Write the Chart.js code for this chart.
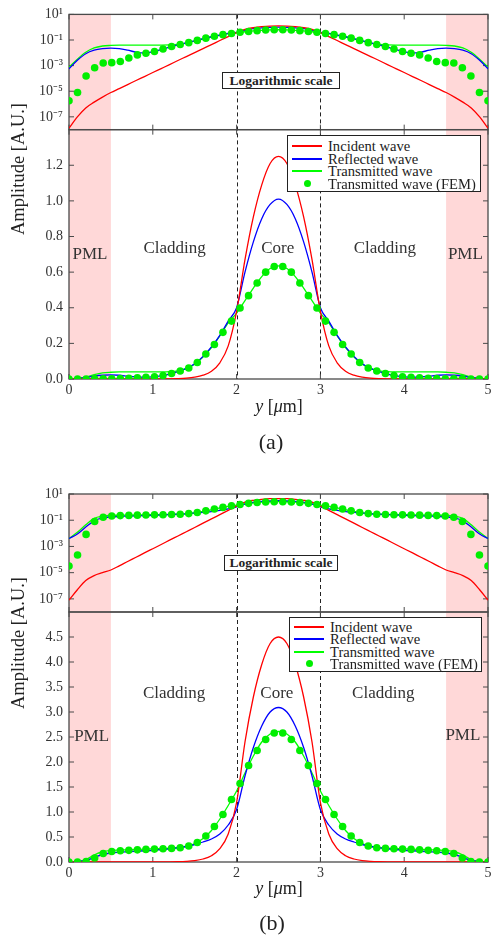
<!DOCTYPE html>
<html>
<head>
<meta charset="utf-8">
<title>Amplitude profiles</title>
<script src="https://cdn.jsdelivr.net/npm/chart.js@4.4.1/dist/chart.umd.min.js"></script>
<style>
  html, body { margin: 0; padding: 0; background: #fff; }
  #page { position: relative; width: 492px; height: 940px; overflow: hidden;
          font-family: "Liberation Serif", "Times New Roman", serif; color: #222; }
  canvas { position: absolute; left: 0; }
  .txt { position: absolute; white-space: nowrap; transform: translate(-50%, -50%); }
  .ytitle { font-size: 18.5px; transform: translate(-50%, -50%) rotate(-90deg); }
  .xtitle { font-size: 18px; }
  .tag { font-size: 22px; }
  .logbox { position: absolute; box-sizing: border-box; border: 1.2px solid #222; background: #fff;
            font-weight: bold; font-size: 13.5px; text-align: center; white-space: nowrap; }
  .legend { position: absolute; box-sizing: border-box; border: 1.2px solid #222; background: #fff; font-size: 14.6px; }
  .legend .row { position: absolute; left: 0; right: 0; height: 14px; }
  .legend .sample { position: absolute; left: 4px; width: 30px; top: 6px; height: 2px; }
  .legend .dot { position: absolute; left: 16px; top: 3px; width: 7px; height: 7px; border-radius: 50%; }
  .legend .label { position: absolute; left: 40px; top: 0; line-height: 14px; white-space: nowrap; }
</style>
</head>
<body>
<div id="page">
  <canvas id="chartA" width="492" height="470" style="top:0px"></canvas>
  <canvas id="chartB" width="492" height="470" style="top:470px"></canvas>

  <div class="txt ytitle" style="left:18px;top:169px">Amplitude [A.U.]</div>
  <div class="txt xtitle" style="left:279px;top:406px"><i>y</i> [<i>μ</i>m]</div>
  <div class="txt tag" style="left:271px;top:442px">(a)</div>
  <div class="logbox" style="left:222px;top:72px;width:118px;height:17px;line-height:15px">Logarithmic scale</div>

  <div class="txt ytitle" style="left:18px;top:643px">Amplitude [A.U.]</div>
  <div class="txt xtitle" style="left:279px;top:888px"><i>y</i> [<i>μ</i>m]</div>
  <div class="txt tag" style="left:272px;top:923px">(b)</div>
  <div class="logbox" style="left:224px;top:555px;width:114px;height:16px;line-height:14px">Logarithmic scale</div>
</div>

<script>
// sampling grid of the analytical curves (µm)
const X_GRID = [0, 0.1, 0.2, 0.3, 0.4, 0.5, 0.6, 0.7, 0.8, 0.9,
  1.0, 1.1, 1.2, 1.3, 1.4, 1.5, 1.6, 1.7, 1.8, 1.9,
  2.0, 2.1, 2.2, 2.3, 2.4, 2.5, 2.6, 2.7, 2.8, 2.9,
  3.0, 3.1, 3.2, 3.3, 3.4, 3.5, 3.6, 3.7, 3.8, 3.9,
  4.0, 4.1, 4.2, 4.3, 4.4, 4.5, 4.6, 4.7, 4.8, 4.9, 5.0];

// FEM nodes
const FEM_X = [0, 0.102, 0.204, 0.306, 0.408, 0.510, 0.612, 0.714, 0.816, 0.918,
  1.020, 1.122, 1.224, 1.327, 1.429, 1.531, 1.633, 1.735, 1.837, 1.939,
  2.041, 2.143, 2.245, 2.347, 2.449, 2.551, 2.653, 2.755, 2.857, 2.959,
  3.061, 3.163, 3.265, 3.367, 3.469, 3.571, 3.673, 3.776, 3.878, 3.980,
  4.082, 4.184, 4.286, 4.388, 4.490, 4.592, 4.694, 4.796, 4.898, 5.000];

// panel (a)
const INCIDENT_A = [1.3e-8, 1.0e-7, 5.0e-7, 1.4e-6, 3.5e-6, 7.9e-6, 1.6e-5, 3.3e-5, 6.9e-5, 1.4e-4,
  2.9e-4, 5.9e-4, 1.2e-3, 2.5e-3, 5.1e-3, 0.0105, 0.0214, 0.0437, 0.091, 0.186,
  0.38, 0.67, 0.91, 1.09, 1.21, 1.25, 1.21, 1.09, 0.91, 0.67,
  0.38, 0.186, 0.091, 0.0437, 0.0214, 0.0105, 5.1e-3, 2.5e-3, 1.2e-3, 5.9e-4,
  2.9e-4, 1.4e-4, 6.9e-5, 3.3e-5, 1.6e-5, 7.9e-6, 3.5e-6, 1.4e-6, 5.0e-7, 1.0e-7, 1.3e-8];
const REFLECTED_A = [5.7e-4, 2.6e-3, 8.5e-3, 0.016, 0.021, 0.023, 0.021, 0.016, 0.0115, 0.0098,
  0.012, 0.018, 0.028, 0.042, 0.060, 0.086, 0.127, 0.180, 0.245, 0.325,
  0.40, 0.60, 0.77, 0.90, 0.98, 1.01, 0.98, 0.90, 0.77, 0.60,
  0.40, 0.325, 0.245, 0.180, 0.127, 0.086, 0.060, 0.042, 0.028, 0.018,
  0.012, 0.0098, 0.0115, 0.016, 0.021, 0.023, 0.021, 0.016, 8.5e-3, 2.6e-3, 5.7e-4];
const TRANSMITTED_A = [7.5e-4, 3.2e-3, 0.011, 0.024, 0.034, 0.038, 0.040, 0.040, 0.040, 0.040,
  0.040, 0.040, 0.041, 0.046, 0.058, 0.083, 0.123, 0.176, 0.242, 0.315,
  0.37, 0.44, 0.51, 0.575, 0.62, 0.635, 0.62, 0.575, 0.51, 0.44,
  0.37, 0.315, 0.242, 0.176, 0.123, 0.083, 0.058, 0.046, 0.041, 0.040,
  0.040, 0.040, 0.040, 0.040, 0.040, 0.038, 0.034, 0.024, 0.011, 3.2e-3, 7.5e-4];
const FEM_A = [1.8e-6, 7.9e-6, 1.55e-4, 6.9e-4, 1.6e-3, 1.7e-3, 2.1e-3, 3.9e-3, 6.9e-3, 9.3e-3,
  0.0126, 0.020, 0.031, 0.045, 0.062, 0.093, 0.140, 0.194, 0.262, 0.325,
  0.399, 0.468, 0.539, 0.600, 0.632, 0.632, 0.600, 0.539, 0.468, 0.399,
  0.325, 0.262, 0.194, 0.140, 0.093, 0.062, 0.045, 0.031, 0.020, 0.0126,
  9.3e-3, 6.9e-3, 3.9e-3, 2.1e-3, 1.7e-3, 1.6e-3, 6.9e-4, 1.55e-4, 7.9e-6, 1.8e-6];

// panel (b)
const INCIDENT_B = [8e-8, 5e-7, 2.5e-6, 6e-6, 1.0e-5, 1.6e-5, 3.3e-5, 7.1e-5, 1.5e-4, 3.2e-4,
  6.7e-4, 1.4e-3, 3.0e-3, 6.3e-3, 0.0133, 0.028, 0.060, 0.126, 0.266, 0.56,
  1.19, 2.40, 3.30, 3.95, 4.37, 4.50, 4.37, 3.95, 3.30, 2.40,
  1.19, 0.56, 0.266, 0.126, 0.060, 0.028, 0.0133, 6.3e-3, 3.0e-3, 1.4e-3,
  6.7e-4, 3.2e-4, 1.5e-4, 7.1e-5, 3.3e-5, 1.6e-5, 1.0e-5, 6e-6, 2.5e-6, 5e-7, 8e-8];
const REFLECTED_B = [4e-3, 9e-3, 0.03, 0.09, 0.15, 0.18, 0.195, 0.205, 0.215, 0.225,
  0.235, 0.25, 0.265, 0.285, 0.31, 0.35, 0.40, 0.46, 0.56, 0.74,
  1.05, 1.72, 2.29, 2.72, 3.00, 3.09, 3.00, 2.72, 2.29, 1.72,
  1.05, 0.74, 0.56, 0.46, 0.40, 0.35, 0.31, 0.285, 0.265, 0.25,
  0.235, 0.225, 0.215, 0.205, 0.195, 0.18, 0.15, 0.09, 0.03, 9e-3, 4e-3];
const TRANSMITTED_B = [4e-3, 0.012, 0.045, 0.14, 0.205, 0.232, 0.24, 0.245, 0.25, 0.258,
  0.263, 0.268, 0.275, 0.287, 0.315, 0.37, 0.47, 0.63, 0.86, 1.13,
  1.42, 1.78, 2.12, 2.40, 2.56, 2.61, 2.56, 2.40, 2.12, 1.78,
  1.42, 1.13, 0.86, 0.63, 0.47, 0.37, 0.315, 0.287, 0.275, 0.268,
  0.263, 0.258, 0.25, 0.245, 0.24, 0.232, 0.205, 0.14, 0.045, 0.012, 4e-3];
const FEM_B = [3.2e-5, 2.2e-4, 8.3e-3, 0.08, 0.17, 0.21, 0.225, 0.233, 0.243, 0.252,
  0.258, 0.264, 0.272, 0.285, 0.32, 0.39, 0.52, 0.71, 0.95, 1.25,
  1.57, 1.93, 2.23, 2.45, 2.58, 2.58, 2.45, 2.23, 1.93, 1.57,
  1.25, 0.95, 0.71, 0.52, 0.39, 0.32, 0.285, 0.272, 0.264, 0.258,
  0.252, 0.243, 0.233, 0.225, 0.21, 0.17, 0.08, 8.3e-3, 2.2e-4, 3.2e-5];

// axes
const X_TICKS = [0, 1, 2, 3, 4, 5];
const LOG_TICKS = [1e1, 1e-1, 1e-3, 1e-5, 1e-7];
const LIN_TICKS_A = [0, 0.2, 0.4, 0.6, 0.8, 1.0, 1.2];
const LIN_TICKS_B = [0, 0.5, 1.0, 1.5, 2.0, 2.5, 3.0, 3.5, 4.0, 4.5];

const SERIES_NAMES = ['Incident wave', 'Reflected wave', 'Transmitted wave', 'Transmitted wave (FEM)'];
const PML_ZONES = [[0, 0.5], [4.5, 5]];
const CORE_EDGES = [2, 3];
const REGION_NAMES = ['PML', 'Cladding', 'Core', 'Cladding', 'PML'];

const COLORS = ['#ff0000', '#0000ff', '#00ff00'];
const FEM_COLOR = '#00ee00';
const PML_FILL = '#ffd8d8';
const AXIS_COLOR = '#4a4a4a';
const TEXT_COLOR = '#333';
const TICK_FONT = {family: '"Liberation Serif", "Times New Roman", serif', size: 14};

const SUP = {'-': '⁻', '0': '⁰', '1': '¹', '2': '²', '3': '³', '4': '⁴', '5': '⁵', '6': '⁶', '7': '⁷', '8': '⁸', '9': '⁹'};
const powerLabel = v => '10' + String(Math.round(Math.log10(v))).split('').map(c => SUP[c]).join('');

const panelDecor = {
    id: 'panelDecor',
    beforeDatasetsDraw(chart, args, opts) {
        const {ctx, scales: {x, yLin, yLog}} = chart;
        const left = x.left, right = x.right;
        const top = yLog.top, mid = yLog.bottom, bottom = yLin.bottom;
        ctx.save();

        ctx.fillStyle = PML_FILL;
        PML_ZONES.forEach(([a, b]) => {
            const xa = x.getPixelForValue(a), xb = x.getPixelForValue(b);
            ctx.fillRect(xa, top, xb - xa, bottom - top);
        });

        ctx.strokeStyle = '#222';
        ctx.lineWidth = 1;
        ctx.setLineDash([4, 3]);
        CORE_EDGES.forEach(v => {
            const px = Math.round(x.getPixelForValue(v)) + 0.5;
            ctx.beginPath();
            ctx.moveTo(px, top);
            ctx.lineTo(px, bottom);
            ctx.stroke();
        });
        ctx.setLineDash([]);

        // region names
        ctx.fillStyle = TEXT_COLOR;
        ctx.font = '17px "Liberation Serif", "Times New Roman", serif';
        ctx.textAlign = 'center';
        ctx.textBaseline = 'middle';
        REGION_NAMES.forEach((name, i) => {
            ctx.fillText(name, x.getPixelForValue(opts.regionX[i]), yLin.getPixelForValue(opts.regionY[i]));
        });

        // frames and inward ticks
        ctx.strokeStyle = AXIS_COLOR;
        ctx.lineWidth = 1.3;
        ctx.strokeRect(left, top, right - left, mid - top);
        ctx.strokeRect(left, mid, right - left, bottom - mid);

        const tl = 5;
        ctx.lineWidth = 1;
        ctx.beginPath();
        X_TICKS.forEach(v => {
            const px = x.getPixelForValue(v);
            [[top, 1], [mid, -1], [mid, 1], [bottom, -1]].forEach(([y0, d]) => {
                ctx.moveTo(px, y0);
                ctx.lineTo(px, y0 + d * tl);
            });
        });
        [[yLog, LOG_TICKS], [yLin, opts.linTicks]].forEach(([sc, ticks]) => {
            ticks.forEach(v => {
                const py = sc.getPixelForValue(v);
                ctx.moveTo(left, py); ctx.lineTo(left + tl, py);
                ctx.moveTo(right, py); ctx.lineTo(right - tl, py);
            });
        });
        ctx.stroke();
        ctx.restore();
    }
};

function buildPanel(canvasId, cfg) {
    const datasets = [];
    ['yLin', 'yLog'].forEach(axis => {
        datasets.push({
            label: SERIES_NAMES[3],
            data: FEM_X.map((x, i) => ({x: x, y: cfg.fem[i]})),
            yAxisID: axis,
            showLine: false,
            pointRadius: 3.8,
            pointBackgroundColor: FEM_COLOR,
            pointBorderWidth: 0,
            borderColor: FEM_COLOR
        });
        [cfg.incident, cfg.reflected, cfg.transmitted].forEach((arr, k) => {
            datasets.push({
                label: SERIES_NAMES[k],
                data: X_GRID.map((x, i) => ({x: x, y: arr[i]})),
                yAxisID: axis,
                borderColor: COLORS[k],
                borderWidth: 1.3,
                pointRadius: 0,
                cubicInterpolationMode: 'monotone',
                fill: false
            });
        });
    });

    const axisCommon = {
        grid: {display: false, drawTicks: false},
        border: {display: false}
    };

    return new Chart(document.getElementById(canvasId), {
        type: 'line',
        data: {datasets: datasets},
        options: {
            responsive: false,
            animation: false,
            devicePixelRatio: 1,
            events: [],
            layout: {padding: {left: 0, right: 2, top: cfg.padTop, bottom: cfg.padBottom}},
            scales: {
                x: {
                    ...axisCommon,
                    type: 'linear', min: 0, max: 5,
                    afterBuildTicks: s => { s.ticks = X_TICKS.map(v => ({value: v})); },
                    afterFit: s => { s.height = 30; s.paddingLeft = 0; s.paddingRight = 0; },
                    ticks: {font: TICK_FONT, color: TEXT_COLOR, padding: 3, maxRotation: 0, autoSkip: false,
                        callback: v => String(v)}
                },
                yLin: {
                    ...axisCommon,
                    type: 'linear', position: 'left', stack: 'panel', stackWeight: cfg.linWeight,
                    min: 0, max: cfg.linMax,
                    afterBuildTicks: s => { s.ticks = cfg.linTicks.map(v => ({value: v})); },
                    afterFit: s => { s.width = 69; },
                    ticks: {font: TICK_FONT, color: TEXT_COLOR, padding: 6, autoSkip: false,
                        callback: v => Number(v).toFixed(1)}
                },
                yLog: {
                    ...axisCommon,
                    type: 'logarithmic', position: 'left', stack: 'panel', stackWeight: cfg.logWeight,
                    min: 1e-8, max: 1e1,
                    afterBuildTicks: s => { s.ticks = LOG_TICKS.map(v => ({value: v})); },
                    afterFit: s => { s.width = 69; },
                    ticks: {font: TICK_FONT, color: TEXT_COLOR, padding: 6, autoSkip: false,
                        callback: v => powerLabel(v)}
                }
            },
            plugins: {
                legend: {display: false},
                tooltip: {enabled: false},
                panelDecor: {linTicks: cfg.linTicks, regionX: cfg.regionX, regionY: cfg.regionY}
            }
        },
        plugins: [panelDecor]
    });
}

function buildLegend(left, top, width, height, firstRow, gap) {
    const box = document.createElement('div');
    box.className = 'legend';
    Object.assign(box.style, {left: left + 'px', top: top + 'px', width: width + 'px', height: height + 'px'});
    SERIES_NAMES.forEach((name, i) => {
        const row = document.createElement('div');
        row.className = 'row';
        row.style.top = Math.round(firstRow + i * gap - 7) + 'px';
        const mark = document.createElement('div');
        if (i < 3) {
            mark.className = 'sample';
            mark.style.background = COLORS[i];
        } else {
            mark.className = 'dot';
            mark.style.background = FEM_COLOR;
        }
        const label = document.createElement('div');
        label.className = 'label';
        label.textContent = name;
        row.append(mark, label);
        box.append(row);
    });
    document.getElementById('page').append(box);
}

buildPanel('chartA', {
    incident: INCIDENT_A, reflected: REFLECTED_A, transmitted: TRANSMITTED_A, fem: FEM_A,
    linMax: 1.4, linTicks: LIN_TICKS_A, linWeight: 251, logWeight: 116,
    padTop: 12, padBottom: 61,
    regionX: [0.25, 1.26, 2.49, 3.77, 4.73], regionY: [0.70, 0.73, 0.73, 0.73, 0.70]
});
buildPanel('chartB', {
    incident: INCIDENT_B, reflected: REFLECTED_B, transmitted: TRANSMITTED_B, fem: FEM_B,
    linMax: 5.0, linTicks: LIN_TICKS_B, linWeight: 250, logWeight: 118,
    padTop: 24, padBottom: 48,
    regionX: [0.27, 1.255, 2.48, 3.75, 4.70], regionY: [2.5, 3.36, 3.36, 3.36, 2.52]
});

buildLegend(287, 135, 194, 57, 10, 12.6);
buildLegend(289, 617, 193, 55, 8.5, 12.6);
</script>
</body>
</html>
